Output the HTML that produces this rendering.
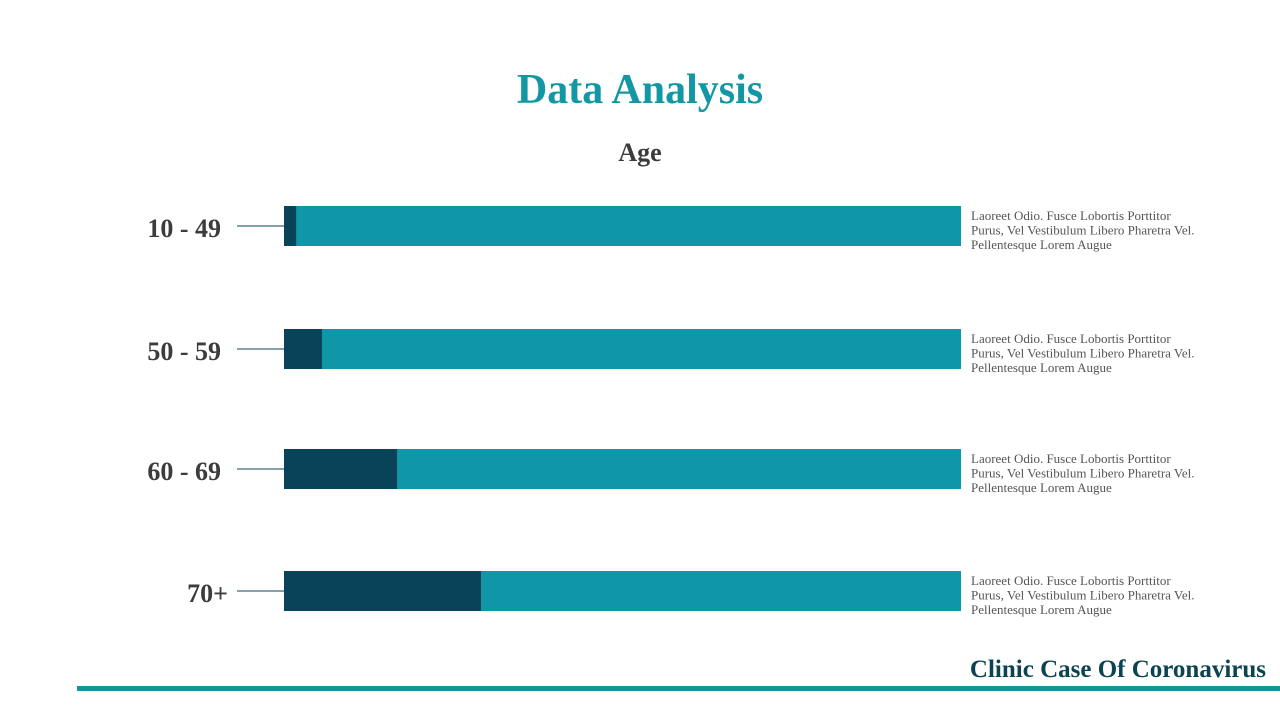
<!DOCTYPE html>
<html><head><meta charset="utf-8"><style>
body{margin:0;width:1280px;height:720px;background:#fff;overflow:hidden;font-family:"Liberation Serif",serif}
svg{position:absolute;left:0;top:0}
</style></head><body>
<svg width="1280" height="720">
<text x="640" y="103" text-anchor="middle" font-size="42" font-weight="bold" fill="#1497a5">Data Analysis</text>
<text x="640" y="161" text-anchor="middle" font-size="26" font-weight="bold" fill="#3c3c3c">Age</text>
<g id="bars"></g>
<text x="1266" y="677" text-anchor="end" font-size="25" font-weight="bold" fill="#0b4450">Clinic Case Of Coronavirus</text>
<rect x="77" y="686" width="1203" height="5" fill="#1890a0"/>
</svg>
<script>
const categories=["10 - 49","50 - 59","60 - 69","70+"];
const values=[1.8,5.6,16.7,29.1];
const descLines=["Laoreet Odio. Fusce Lobortis Porttitor","Purus, Vel Vestibulum Libero Pharetra Vel.","Pellentesque Lorem Augue"];
const yCenters=[226,349,469,591];
const x0=284,x1=961,maxV=100;
const xs=v=>x0+(x1-x0)*v/maxV;
const g=document.getElementById('bars');
const NS="http://www.w3.org/2000/svg";
function mk(t,a){const e=document.createElementNS(NS,t);for(const k in a)e.setAttribute(k,a[k]);g.appendChild(e);return e;}
categories.forEach((c,i)=>{
  const yc=yCenters[i];
  const bg=mk('rect',{x:x0,y:yc-20,width:x1-x0,height:40,fill:'#1097a7'});
  
  
  const fg=mk('rect',{x:x0,y:yc-20,width:xs(values[i])-x0,height:40,fill:'#08435a'});
  
  
  const ln=mk('line',{x1:237,y1:yc,x2:x0,y2:yc,stroke:'#08435a','stroke-width':1});
  
  
  const lb=mk('text',{x:i==3?228:221,y:yc+11,'text-anchor':'end','font-size':26,'font-weight':'bold',fill:'#3c3c3c'});
  lb.textContent=c;
  
  
  descLines.forEach((l,j)=>{
    const t=mk('text',{x:971,y:yc-6+j*14.5,'font-size':13,fill:'#555'});
    t.textContent=l;
    
    
  });
});
</script>
</body></html>
